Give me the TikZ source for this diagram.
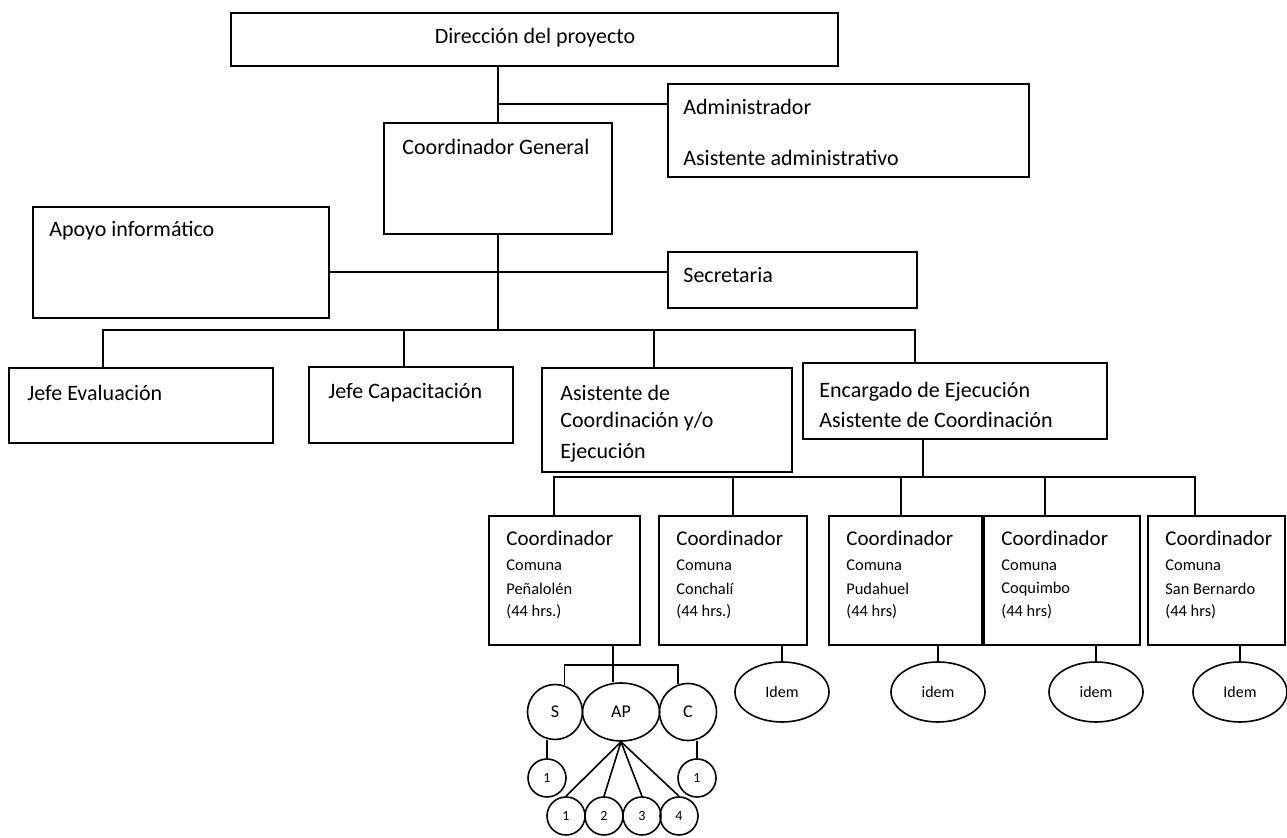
\documentclass[tikz,border=0pt]{standalone}
\usepackage{fontspec}
\setmainfont{Carlito}
\usetikzlibrary{positioning, fit, calc, shapes.geometric}

\begin{document}
\begin{tikzpicture}[x=0.5pt, y=-0.5pt,
    box/.style={draw, line width=0.8pt, inner sep=0pt},
    txt/.style={font=\fontsize{11}{13}\selectfont, inner sep=0pt, anchor=west},
    smalltxt/.style={font=\fontsize{8.2}{9}\selectfont, inner sep=0pt, anchor=west},
    link/.style={line width=0.8pt},
    idem/.style={draw, ellipse, line width=0.8pt, minimum width=47pt, minimum height=30pt, inner sep=0pt, font=\fontsize{8}{9}\selectfont},
    ball/.style={draw, circle, line width=0.8pt, inner sep=0pt, font=\fontsize{9}{10}\selectfont},
    oval/.style={draw, ellipse, line width=0.8pt, inner sep=0pt, minimum width=38.5pt, minimum height=29pt, font=\fontsize{9}{10}\selectfont},
    dot/.style={draw, circle, line width=0.8pt, inner sep=0pt, minimum size=19pt, font=\fontsize{7}{8}\selectfont}]
\useasboundingbox (0,0) rectangle (1287,838);

% ---- direction and general coordination
\node[box, fit={(231,13) (838,66)}] (dir) {};
\node[txt, anchor=center] (dirT) at (535,38) {Dirección del proyecto};
\node[box, fit={(668,84) (1029,177)}] (adm) {};
\node[txt] (admA) at (683,107) {Administrador};
\node[txt] (admB) at (683,158) {Asistente administrativo};
\node[box, fit={(384,123) (612,234)}] (cg) {};
\node[txt] (cgT) at (402,147) {Coordinador General};
\node[box, fit={(33,207) (329,318)}] (apo) {};
\node[txt] (apoT) at (49,231) {Apoyo informático};
\node[box, fit={(668,252) (917,308)}] (sec) {};
\node[txt] (secT) at (683,275) {Secretaria};

\coordinate (ja) at (498,104);
\coordinate (jc) at (498,272);
\coordinate (bus1) at (498,330);
\draw[link] (dir.south -| ja) -- (cg.north -| ja);
\draw[link] (ja) -- (ja -| adm.west);
\draw[link] (cg.south -| bus1) -- (bus1);
\draw[link] (jc -| apo.east) -- (jc -| sec.west);

% ---- heads
\node[box, fit={(9,368) (273,443)}] (jev) {};
\node[txt] (jevT) at (27,393) {Jefe Evaluación};
\node[box, fit={(309,367) (513,443)}] (jcap) {};
\node[txt] (jcapT) at (328,393) {Jefe Capacitación};
\node[box, fit={(542,368) (792,472)}] (asis) {};
\node[txt] (asisA) at (560,393) {Asistente de};
\node[txt] (asisB) at (560,422) {Coordinación y/o};
\node[txt] (asisC) at (560,453) {Ejecución};
\node[box, fit={(803,363) (1107,439)}] (enc) {};
\node[txt] (encA) at (819,392) {Encargado de Ejecución};
\node[txt] (encB) at (819,420) {Asistente de Coordinación};
\foreach \n/\dx in {jev/95, jcap/96, asis/113, enc/113}
    \draw[link] (bus1) -| ($(\n.north west)+(\dx,0)$);

% ---- coordinators per comuna
\coordinate (bus2) at (923,477);
\draw[link] (enc.south -| bus2) -- (bus2);
\foreach \n/\xa/\xb/\place/\hrs in {c1/489/640/Peñalolén/{(44 hrs.)}, c2/659/807/Conchalí/{(44 hrs.)}, c3/829/982/Pudahuel/{(44 hrs)}, c4/984/1140/Coquimbo/{(44 hrs)}, c5/1148/1285/San Bernardo/{(44 hrs)}} {
    \node[box, fit={(\xa,516) (\xb,645)}] (\n) {};
    \node[txt, font=\fontsize{10.5}{12}\selectfont] (\n-t) at (\xa+17,538) {Coordinador};
    \node[smalltxt] (\n-a) at (\xa+17,565) {Comuna};
    \node[smalltxt] (\n-b) at (\xa+17,589) {\place};
    \node[smalltxt] (\n-c) at (\xa+17,612) {\hrs};
}
\foreach \n/\dx in {c1/66, c2/75, c3/73, c4/62, c5/48}
    \draw[link] (bus2) -| ($(\n.north west)+(\dx,0)$);

% ---- idem teams
\node[idem] (i2) at (782,692) {Idem};
\node[idem] (i3) at (938,692) {idem};
\node[idem] (i4) at (1096,692) {idem};
\node[idem] (i5) at (1240,692) {Idem};
\foreach \n/\m in {c2/i2, c3/i3, c4/i4, c5/i5}
    \draw[link] (\m.north) -- (\m.north |- \n.south);

% ---- team of the first comuna
\node[ball, minimum size=27.5pt] (s) at (555,712) {S};
\node[oval] (ap) at (621,712) {AP};
\node[ball, minimum size=28.5pt] (cc) at (688,712) {C};
\node[dot] (s1) at (547,778) {1};
\node[dot] (cd) at (697,778) {1};
\foreach \n/\x/\t in {b1/566/1, b2/604/2, b3/642/3, b4/679/4}
    \node[dot] (\n) at (\x,816) {\t};
\coordinate (bus3) at (613,665);
\draw[link] (c1.south -| bus3) -- (bus3 |- ap.north);
\draw[link] (s.70) |- (bus3) -| (cc.110);
\draw[link] (s1.north) -- (s1.north |- s.south);
\draw[link] (cd.north) -- (cd.north |- cc.south);
\foreach \n in {b1,b2,b3,b4}
    \draw[link] (ap.south) -- (\n.north);
\end{tikzpicture}
\end{document}
